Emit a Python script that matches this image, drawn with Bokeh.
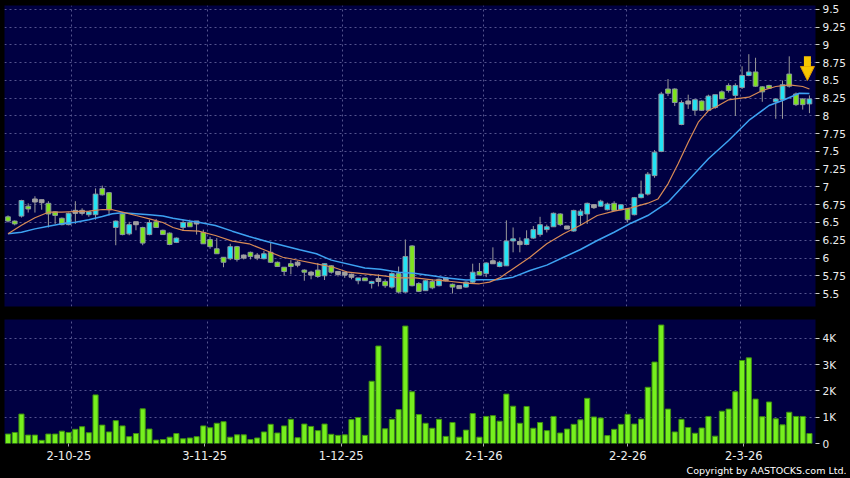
import numpy as np
from bokeh.plotting import figure
from bokeh.layouts import column
from bokeh.models import FixedTicker, Title, Arrow, NormalHead, Range1d
from bokeh.embed import file_html
from bokeh.resources import INLINE

# ---------------- data ----------------
opens = [6.58, 6.52, 6.59, 6.73, 6.81, 6.80, 6.77, 6.65, 6.56, 6.47,
         6.65, 6.65, 6.61, 6.61, 6.98, 6.92, 6.43, 6.62, 6.34, 6.49,
         6.43, 6.33, 6.51, 6.39, 6.35, 6.22, 6.43, 6.50, 6.50, 6.36,
         6.26, 6.13, 6.01, 5.99, 6.16, 6.02, 6.08, 6.02, 5.99, 6.08,
         5.94, 5.87, 5.92, 5.92, 5.83, 5.78, 5.83, 5.75, 5.89, 5.79,
         5.78, 5.75, 5.68, 5.72, 5.64, 5.69, 5.67, 5.59, 5.78, 5.52,
         6.17, 5.64, 5.54, 5.67, 5.61, 5.70, 5.63, 5.59, 5.59, 5.66,
         5.81, 5.78, 5.94, 5.88, 5.89, 6.24, 6.21, 6.19, 6.28, 6.33,
         6.40, 6.44, 6.62, 6.43, 6.38, 6.60, 6.62, 6.73, 6.73, 6.68,
         6.77, 6.68, 6.69, 6.61, 6.85, 6.90, 7.16, 7.50, 8.38, 8.38,
         7.88, 8.19, 8.08, 8.21, 8.08, 8.12, 8.34, 8.43, 8.29, 8.40,
         8.57, 8.62, 8.41, 8.43, 8.20, 8.23, 8.59, 8.31, 8.24, 8.17]
highs = [6.60, 6.53, 6.82, 6.77, 6.87, 6.82, 6.80, 6.66, 6.57, 6.64,
         6.80, 6.70, 6.66, 6.98, 7.02, 6.93, 6.53, 6.63, 6.51, 6.49,
         6.44, 6.54, 6.55, 6.40, 6.36, 6.29, 6.54, 6.54, 6.50, 6.40,
         6.30, 6.28, 6.01, 6.20, 6.17, 6.05, 6.09, 6.07, 6.10, 6.21,
         5.95, 5.87, 5.97, 5.96, 5.84, 5.82, 5.93, 5.92, 5.90, 5.80,
         5.78, 5.78, 5.72, 5.72, 5.68, 5.77, 5.70, 5.80, 5.88, 6.26,
         6.18, 5.66, 5.69, 5.70, 5.71, 5.72, 5.64, 5.60, 5.67, 5.92,
         5.93, 5.94, 6.15, 5.96, 6.53, 6.43, 6.29, 6.39, 6.45, 6.58,
         6.47, 6.64, 6.63, 6.45, 6.68, 6.69, 6.78, 6.76, 6.82, 6.78,
         6.80, 6.76, 6.70, 6.86, 7.09, 7.21, 7.52, 8.34, 8.52, 8.39,
         8.22, 8.30, 8.23, 8.22, 8.30, 8.30, 8.36, 8.46, 8.46, 8.70,
         8.87, 8.82, 8.42, 8.44, 8.25, 8.50, 8.84, 8.33, 8.25, 8.29]
lows = [6.50, 6.46, 6.57, 6.64, 6.64, 6.68, 6.43, 6.48, 6.46, 6.46,
        6.48, 6.60, 6.58, 6.54, 6.88, 6.60, 6.18, 6.32, 6.32, 6.39,
        6.18, 6.32, 6.43, 6.33, 6.18, 6.21, 6.38, 6.44, 6.33, 6.20,
        6.13, 6.06, 5.87, 5.97, 5.95, 5.98, 5.98, 5.97, 5.98, 5.93,
        5.88, 5.75, 5.77, 5.87, 5.68, 5.70, 5.72, 5.69, 5.78, 5.74,
        5.72, 5.70, 5.63, 5.68, 5.57, 5.60, 5.58, 5.57, 5.50, 5.51,
        5.60, 5.52, 5.54, 5.56, 5.60, 5.67, 5.50, 5.58, 5.58, 5.64,
        5.76, 5.73, 5.93, 5.87, 5.89, 6.08, 6.08, 6.18, 6.27, 6.30,
        6.36, 6.44, 6.45, 6.42, 6.37, 6.46, 6.48, 6.69, 6.72, 6.67,
        6.66, 6.67, 6.50, 6.60, 6.84, 6.88, 7.13, 7.49, 8.28, 8.14,
        7.87, 8.10, 8.01, 8.07, 8.07, 8.10, 8.24, 8.33, 8.00, 8.38,
        8.56, 8.41, 8.20, 8.38, 7.96, 7.96, 8.40, 8.14, 8.09, 8.04]
closes = [6.52, 6.48, 6.81, 6.69, 6.81, 6.80, 6.62, 6.60, 6.47, 6.63,
          6.65, 6.65, 6.65, 6.90, 6.89, 6.68, 6.52, 6.33, 6.47, 6.49,
          6.21, 6.50, 6.43, 6.33, 6.19, 6.28, 6.50, 6.44, 6.50, 6.20,
          6.16, 6.06, 5.94, 6.16, 5.98, 6.02, 6.02, 6.02, 6.06, 5.94,
          5.88, 5.81, 5.88, 5.92, 5.80, 5.78, 5.74, 5.92, 5.80, 5.79,
          5.78, 5.75, 5.72, 5.68, 5.67, 5.69, 5.61, 5.78, 5.52, 6.02,
          5.61, 5.53, 5.68, 5.58, 5.70, 5.70, 5.59, 5.59, 5.66, 5.80,
          5.76, 5.93, 5.94, 5.94, 6.24, 6.27, 6.21, 6.27, 6.40, 6.47,
          6.44, 6.63, 6.47, 6.43, 6.67, 6.66, 6.77, 6.73, 6.80, 6.76,
          6.67, 6.75, 6.54, 6.85, 6.90, 7.18, 7.49, 8.31, 8.32, 8.19,
          8.19, 8.19, 8.23, 8.08, 8.28, 8.30, 8.24, 8.36, 8.43, 8.57,
          8.62, 8.42, 8.34, 8.39, 8.24, 8.44, 8.42, 8.16, 8.16, 8.24]
volume_k = [0.36, 0.42, 1.12, 0.32, 0.32, 0.12, 0.36, 0.36, 0.47, 0.42,
            0.54, 0.64, 0.41, 1.85, 0.70, 0.44, 0.87, 0.67, 0.26, 0.38,
            1.32, 0.55, 0.13, 0.15, 0.24, 0.38, 0.18, 0.21, 0.26, 0.67,
            0.60, 0.77, 0.83, 0.24, 0.33, 0.33, 0.15, 0.21, 0.44, 0.73,
            0.40, 0.67, 0.92, 0.22, 0.74, 0.65, 0.49, 0.74, 0.35, 0.31,
            0.33, 0.91, 0.99, 0.31, 2.37, 3.71, 0.56, 0.92, 1.29, 4.47,
            1.97, 1.10, 0.77, 0.58, 0.92, 0.27, 0.80, 0.24, 0.51, 1.14,
            0.24, 1.03, 1.06, 0.85, 1.88, 1.42, 0.77, 1.41, 0.58, 0.80,
            0.49, 1.03, 0.40, 0.55, 0.73, 0.90, 1.72, 1.01, 0.97, 0.30,
            0.54, 0.73, 1.11, 0.74, 0.93, 2.14, 3.10, 4.51, 1.31, 0.44,
            0.92, 0.61, 0.39, 0.59, 1.03, 0.28, 1.23, 1.31, 1.97, 3.16,
            3.26, 1.69, 1.02, 1.58, 0.94, 0.71, 1.19, 1.03, 1.03, 0.38]

# moving averages (bar position, price)
ma_short_x = [1, 3, 5, 7, 9, 11, 13, 15, 16.5, 18, 20, 22, 24, 25.5, 27, 29.3,
              31.8, 34.3, 36.8, 39.3, 41.8, 44.3, 46.8, 49.3, 51.5, 54, 56.5,
              59, 61.5, 64, 66.5, 69, 71, 72.5, 74, 76, 78.5, 81, 83.5, 86,
              88.5, 91, 93.5, 96, 97.5, 99, 100.5, 102, 103.5, 105, 106.5,
              108, 109, 111, 113, 115, 117, 119, 120]
ma_short_y = [6.34, 6.46, 6.566, 6.645, 6.645, 6.655, 6.66, 6.683, 6.68, 6.645,
              6.598, 6.552, 6.50, 6.43, 6.39, 6.378, 6.317, 6.237, 6.20, 6.106,
              6.011, 5.965, 5.918, 5.87, 5.80, 5.777, 5.753, 5.72, 5.72, 5.693,
              5.673, 5.645, 5.637, 5.66, 5.72, 5.85, 6.011, 6.20, 6.341, 6.46,
              6.598, 6.66, 6.707, 6.772, 6.83, 7.045, 7.327, 7.631, 7.913,
              8.077, 8.148, 8.228, 8.242, 8.265, 8.359, 8.415, 8.439, 8.415, 8.38]
ma_long_x = [1, 3, 5, 7, 9, 11, 13, 15, 16.5, 18, 20, 22, 24, 25.5, 28, 29.3,
             31.8, 34.3, 36.8, 39.3, 41.8, 44.3, 46.8, 49, 54, 56.3, 59, 61.3,
             64, 66.2, 69, 71.2, 73.6, 76, 78.5, 81, 83.5, 86, 88.5, 91, 93.5,
             96, 99, 102, 105, 108, 111, 114, 116, 118.5, 120]
ma_long_y = [6.34, 6.363, 6.41, 6.448, 6.482, 6.504, 6.538, 6.585, 6.622, 6.636,
             6.622, 6.608, 6.59, 6.56, 6.52, 6.504, 6.458, 6.378, 6.303, 6.237,
             6.176, 6.115, 6.059, 5.97, 5.86, 5.84, 5.80, 5.786, 5.75, 5.72,
             5.69, 5.693, 5.693, 5.73, 5.824, 5.90, 6.01, 6.12, 6.246, 6.363,
             6.49, 6.598, 6.786, 7.092, 7.397, 7.655, 7.937, 8.148, 8.218,
             8.321, 8.315]

date_label_pos = [10.03, 30.2, 50.47, 71.65, 93.03, 110.25]
date_grid_pos = [10.5, 30.6, 50.6, 71.65, 92.8, 109.7]
date_tick_labels = ["2-10-25", "3-11-25", "1-12-25", "2-1-26", "2-2-26", "2-3-26"]
price_ticks = [5.5, 5.75, 6.0, 6.25, 6.5, 6.75, 7.0, 7.25, 7.5, 7.75,
               8.0, 8.25, 8.5, 8.75, 9.0, 9.25, 9.5]
price_tick_labels = ["5.5", "5.75", "6", "6.25", "6.5", "6.75", "7", "7.25", "7.5",
                     "7.75", "8", "8.25", "8.5", "8.75", "9", "9.25", "9.5"]
vol_ticks = [0, 1, 2, 3, 4]
vol_tick_labels = ["0", "1K", "2K", "3K", "4K"]
signal_x = 119.7
signal_top = 8.84
signal_tip = 8.50
copyright_text = "Copyright by AASTOCKS.com Ltd."

# ---------------- styles ----------------
BG = "#000000"
PLOT_BG = "#000042"
GRID = "#54548e"
UP = "#22E4F4"
DOWN = "#7EE31E"
FLAT = "#a0a0a0"
EDGE = "#8a96a0"
WICK = "#9a9a9a"
VOL_FILL = "#76F01E"
VOL_EDGE = "#3f9010"
MA_S = "#d88a55"
MA_L = "#3da2f2"
TXT = "#eeeeee"
FONT = "DejaVu Sans"

X_RANGE = (0.48, 120.9)

o = np.array(opens); h = np.array(highs); l = np.array(lows); c = np.array(closes)
idx = np.arange(1, len(c) + 1)
up = c > o
dn = c < o
fl = c == o


def style(fig):
    fig.background_fill_color = PLOT_BG
    fig.border_fill_color = BG
    fig.outline_line_color = None
    for g in (fig.xgrid, fig.ygrid):
        g.grid_line_color = GRID
        g.grid_line_dash = "2 3"
        g.grid_line_width = 1
    fig.xgrid.ticker = FixedTicker(ticks=date_grid_pos)
    ax = fig.yaxis
    ax.axis_line_color = None
    ax.major_tick_line_color = "#cccccc"
    ax.major_tick_out = 4
    ax.major_tick_in = 0
    ax.minor_tick_line_color = None
    ax.major_label_standoff = 3
    ax.major_label_text_color = TXT
    ax.major_label_text_font = FONT
    ax.major_label_text_font_size = "10.5px"


# ---------------- price panel ----------------
p = figure(width=850, height=312, x_range=Range1d(*X_RANGE), y_range=Range1d(5.317, 9.556),
           y_axis_location="right", x_axis_location=None,
           output_backend="svg", toolbar_location=None,
           min_border_left=4, min_border_right=35, min_border_top=5, min_border_bottom=6)
style(p)
p.ygrid.ticker = FixedTicker(ticks=price_ticks)
p.yaxis.ticker = FixedTicker(ticks=price_ticks)
p.yaxis.major_label_overrides = dict(zip(price_ticks, price_tick_labels))

p.segment(idx, h, idx, l, line_color=WICK, line_width=1)
p.vbar(x=idx[up], bottom=o[up], top=c[up], width=0.7, fill_color=UP, line_color=EDGE, line_width=1)
p.vbar(x=idx[dn], bottom=c[dn], top=o[dn], width=0.7, fill_color=DOWN, line_color=EDGE, line_width=1)
p.rect(x=idx[fl], y=c[fl], width=0.7, height=3, height_units="screen",
       fill_color=FLAT, line_color=FLAT)

p.line(ma_long_x, ma_long_y, line_color=MA_L, line_width=1.5)
p.line(ma_short_x, ma_short_y, line_color=MA_S, line_width=1.2)

p.add_layout(Arrow(end=NormalHead(size=14, fill_color="#f8c600", line_color="#e09a00", line_width=1),
                   x_start=signal_x, y_start=signal_top, x_end=signal_x, y_end=signal_tip,
                   line_color="#f8c600", line_width=7))

# ---------------- volume panel ----------------
v = figure(width=850, height=166, x_range=p.x_range, y_range=Range1d(0, 4.72),
           y_axis_location="right", output_backend="svg", toolbar_location=None,
           min_border_left=4, min_border_right=35, min_border_top=7, min_border_bottom=35)
style(v)
v.ygrid.ticker = FixedTicker(ticks=vol_ticks[1:])
v.yaxis.ticker = FixedTicker(ticks=vol_ticks)
v.yaxis.major_label_overrides = dict(zip(vol_ticks, vol_tick_labels))
xa = v.xaxis
xa.ticker = FixedTicker(ticks=date_label_pos)
xa.major_label_overrides = dict(zip(date_label_pos, date_tick_labels))
xa.axis_line_color = None
xa.major_tick_line_color = "#aaaaaa"
xa.major_tick_out = 3
xa.major_tick_in = 0
xa.minor_tick_line_color = None
xa.major_label_standoff = 4
xa.major_label_text_color = TXT
xa.major_label_text_font = FONT
xa.major_label_text_font_size = "11.5px"

v.vbar(x=idx, top=volume_k, bottom=0, width=0.76, fill_color=VOL_FILL, line_color=VOL_EDGE, line_width=1)

v.add_layout(Title(text=copyright_text, align="right", offset=-31, standoff=0,
                   text_color="#ffffff", text_font=FONT, text_font_size="9.5px",
                   text_font_style="normal"), "below")

layout = column(p, v, spacing=0)
layout.background = BG
html = file_html(layout, INLINE)
html = html.replace("</head>", "<style>html,body{margin:0;padding:0;background:#000;}</style></head>")
open("out.html", "w").write(html)
